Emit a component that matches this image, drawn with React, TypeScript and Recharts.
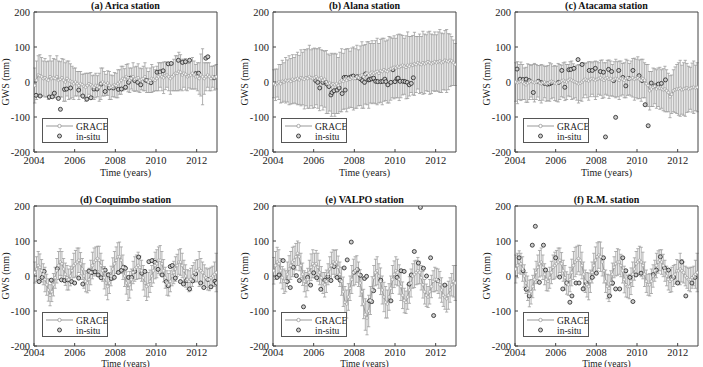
import { ComposedChart, Line, Scatter, XAxis, YAxis, ErrorBar, Legend } from 'recharts';

const FONT = '"Liberation Serif", "Times New Roman", Times, serif';
const YEAR_TICKS = [2004, 2006, 2008, 2010, 2012];
const GWS_TICKS = [-200, -100, 0, 100, 200];

// monthly GRACE epochs, 2004-2012
const months = Array.from({ length: 108 }, (_, i) => 2004.04 + i / 12);

const aricaGrace = [
  -10, 5, 20, 18, 15, 10, 12, 8, 5, 15, 10, 12,
  10, 15, 5, 8, 12, 5, 0, 10, 5, 2, 0, -5,
  0, -5, -10, -5, -8, -12, -15, -10, -5, -8, -12, -15,
  -10, -12, -15, -5, 0, -5, -8, -3, -10, -15, -12, -8,
  -10, -5, 0, 5, 10, 8, 15, 12, 5, 10, 15, 8,
  10, 12, 5, 8, 10, 15, 5, 0, 5, 10, 8, 5,
  10, 15, 20, 15, 12, 18, 20, 15, 10, 15, 20, 25,
  25, 30, 28, 20, 25, 22, 15, 18, 20, 25, 20, 15,
  15, 10, 20, 15, 10, 15, 20, 15, 10, 15, 12, 15,
];
const aricaErr = [
  50, 55, 55, 60, 55, 50, 55, 50, 55, 60, 50, 55,
  55, 60, 55, 50, 55, 60, 55, 50, 55, 50, 45, 45,
  40, 35, 40, 35, 30, 35, 40, 35, 30, 35, 30, 35,
  35, 30, 40, 45, 40, 35, 30, 35, 40, 35, 30, 35,
  35, 40, 35, 40, 35, 30, 35, 40, 35, 30, 40, 35,
  35, 40, 35, 30, 35, 40, 35, 30, 35, 40, 35, 30,
  35, 40, 35, 40, 45, 40, 35, 40, 45, 40, 45, 50,
  50, 55, 50, 45, 40, 45, 40, 35, 40, 45, 40, 35,
  40, 45, 60, 80, 45, 40, 35, 40, 35, 30, 35, 35,
];
const aricaSitu: [number, number][] = [
  [2004.1, -38], [2004.3, -40], [2004.75, -43], [2004.9, -42], [2005.0, -32], [2005.2, -47],
  [2005.3, -78], [2005.5, -21], [2005.6, -20], [2005.8, -17], [2006.2, -23], [2006.4, -40],
  [2006.6, -49], [2006.8, -45], [2006.95, -20], [2007.1, -20], [2007.3, -6], [2007.5, -27],
  [2007.7, -17], [2007.9, -17], [2008.15, -21], [2008.3, -20], [2008.5, -15], [2008.65, -1],
  [2008.75, 11], [2008.95, 4], [2009.1, -1], [2009.25, -8], [2009.5, 5], [2009.6, 3],
  [2009.75, -2], [2010.05, 28], [2010.2, 29], [2010.35, 32], [2010.6, 52], [2010.75, 53],
  [2011.1, 62], [2011.3, 56], [2011.45, 58], [2011.65, 62], [2011.95, 24], [2012.1, 25],
  [2012.45, 68], [2012.55, 72], [2012.85, 12],
];

const alanaGrace = [
  -5, -8, -3, 0, -5, 2, 0, 5, 3, 5, 2, 8,
  5, 8, 10, 6, 12, 10, 8, 12, 10, 15, 12, 10,
  12, 15, 10, 8, 12, 5, 8, 0, -5, -3, -8, -5,
  -8, -5, -10, 0, 5, 2, 8, 5, 10, 8, 12, 10,
  10, 15, 12, 18, 20, 15, 22, 25, 20, 25, 28, 25,
  28, 30, 25, 32, 30, 35, 32, 30, 35, 38, 40, 42,
  40, 45, 42, 45, 48, 45, 42, 48, 45, 50, 48, 52,
  50, 55, 52, 50, 55, 52, 55, 58, 55, 52, 55, 58,
  55, 58, 60, 55, 58, 62, 60, 58, 62, 60, 55, 50,
];
const alanaErr = [
  40, 45, 40, 50, 55, 60, 55, 65, 60, 70, 65, 70,
  65, 70, 75, 70, 80, 75, 85, 80, 85, 90, 80, 85,
  85, 80, 85, 90, 80, 85, 80, 90, 85, 80, 90, 85,
  90, 85, 80, 85, 90, 80, 85, 90, 85, 80, 85, 90,
  85, 90, 80, 85, 95, 90, 85, 90, 95, 85, 90, 85,
  90, 95, 85, 90, 95, 90, 85, 90, 95, 90, 85, 90,
  85, 90, 95, 90, 85, 80, 90, 95, 85, 80, 85, 90,
  80, 75, 85, 80, 90, 85, 80, 85, 90, 85, 80, 85,
  80, 85, 90, 85, 80, 85, 90, 80, 75, 70, 65, 60,
];
const alanaSitu: [number, number][] = [
  [2006.1, 4], [2006.2, -1], [2006.3, -17], [2006.45, -1], [2006.6, -1], [2006.65, -6],
  [2006.75, -13], [2006.85, -37], [2006.9, -30], [2007.0, -25], [2007.15, -23], [2007.25, -17],
  [2007.4, -33], [2007.5, 13], [2007.55, -23], [2007.6, 13], [2007.75, 12], [2007.85, 15],
  [2007.95, 17], [2008.1, 13], [2008.15, 15], [2008.3, 9], [2008.4, 4], [2008.5, -1],
  [2008.55, 23], [2008.7, 6], [2008.75, 7], [2008.85, 9], [2008.95, 11], [2009.05, 2],
  [2009.15, 1], [2009.3, 1], [2009.4, 2], [2009.5, 8], [2009.55, 1], [2009.65, -8],
  [2009.8, -1], [2009.9, 35], [2010.0, 1], [2010.1, 9], [2010.15, 11], [2010.25, 2],
  [2010.4, 2], [2010.5, 1], [2010.6, -1], [2010.7, -8], [2010.8, -4], [2010.9, 12],
];

const atacamaGrace = [
  0, -2, 0, 2, 0, -5, -8, -3, 0, 2, 0, -2,
  0, 2, -3, -5, -2, 0, -5, -3, 0, 2, 0, -3,
  -5, -2, 0, 3, 5, 2, 0, 5, 8, 5, 2, 0,
  -2, -5, -3, 0, 5, 8, 5, 3, 8, 10, 8, 5,
  8, 10, 12, 8, 5, 10, 12, 8, 10, 5, 8, 10,
  8, 5, 10, 8, 5, 10, 12, 8, 10, 12, 8, 10,
  12, 8, 5, 10, 5, -5, -10, -25, -20, -15, -12, -20,
  -15, -18, -20, -22, -20, -25, -30, -42, -35, -25, -22, -20,
  -20, -18, -22, -20, -18, -17, -20, -18, -16, -15, -17, -15,
];
const atacamaErr = [
  55, 60, 50, 55, 50, 45, 50, 55, 50, 45, 50, 55,
  50, 45, 50, 55, 50, 45, 50, 50, 55, 50, 45, 50,
  50, 55, 50, 45, 50, 55, 50, 45, 50, 55, 50, 45,
  50, 55, 50, 55, 50, 45, 50, 55, 50, 45, 50, 55,
  50, 45, 50, 55, 50, 45, 50, 55, 50, 45, 50, 55,
  50, 55, 50, 45, 50, 55, 50, 45, 50, 55, 60, 55,
  60, 55, 60, 55, 50, 55, 60, 55, 50, 55, 50, 55,
  55, 60, 55, 60, 65, 60, 55, 60, 55, 60, 65, 70,
  75, 80, 70, 75, 80, 70, 65, 60, 70, 75, 65, 70,
];
const atacamaSitu: [number, number][] = [
  [2004.1, 37], [2004.25, 8], [2004.4, 7], [2004.55, 8], [2004.7, 4], [2004.9, -30],
  [2005.15, 2], [2005.3, -2], [2005.45, -4], [2005.6, -6], [2005.7, -5], [2005.8, -2],
  [2006.15, -1], [2006.3, 33], [2006.45, -15], [2006.65, 35], [2006.75, 36], [2006.9, 39],
  [2007.1, 64], [2007.3, 50], [2007.65, 33], [2007.8, 33], [2007.95, 39], [2008.2, 30],
  [2008.35, 28], [2008.45, -157], [2008.6, 36], [2008.75, 30], [2008.85, 4], [2008.95, -101],
  [2009.1, 33], [2009.3, 13], [2009.45, -11], [2009.6, 10], [2009.8, 33], [2010.1, 18],
  [2010.25, 4], [2010.4, -65], [2010.55, -125], [2010.7, -3], [2010.9, -11], [2011.05, -6],
  [2011.2, -4], [2011.4, 6],
];

const coquimboGrace = [
  10, 20, 30, 25, 15, 5, -10, -25, -40, -55, -45, -25,
  -5, 15, 30, 40, 35, 20, 5, -5, -10, 0, 15, 30,
  35, 40, 45, 35, 20, 0, -15, -20, -10, 10, 30, 40,
  45, 50, 45, 30, 15, -5, -20, -30, -20, 0, 20, 35,
  45, 55, 55, 45, 25, 0, -20, -35, -25, -10, 10, 20,
  25, 30, 25, 15, -5, -20, -30, -25, -15, 0, 15, 30,
  35, 45, 45, 35, 15, -5, -20, -25, -15, 0, 10, 20,
  30, 40, 40, 30, 15, 0, -10, -15, -10, 0, 10, 15,
  15, 20, 15, 10, 0, -5, -10, -10, -5, 0, 5, 10,
];
const coquimboErr = [
  30, 35, 40, 38, 32, 30, 35, 30, 32, 30, 28, 32,
  30, 35, 40, 38, 35, 30, 32, 35, 30, 28, 32, 35,
  38, 40, 35, 32, 30, 35, 30, 28, 32, 35, 38, 40,
  38, 35, 40, 35, 30, 32, 35, 38, 30, 28, 32, 35,
  38, 40, 42, 38, 35, 30, 32, 35, 38, 30, 32, 35,
  35, 38, 32, 30, 35, 38, 40, 35, 32, 30, 35, 38,
  40, 38, 42, 35, 32, 30, 35, 32, 30, 28, 32, 35,
  32, 35, 38, 35, 30, 32, 28, 30, 32, 30, 28, 30,
  32, 50, 35, 30, 32, 28, 30, 32, 30, 28, 35, 55,
];
const coquimboSitu: [number, number][] = [
  [2004.25, -16], [2004.4, -4], [2004.5, 13], [2004.85, -12], [2005.15, 21], [2005.35, -11],
  [2005.5, -13], [2005.65, -11], [2005.85, -16], [2006.0, -20], [2006.2, -6], [2006.4, -23],
  [2006.7, 14], [2006.85, 10], [2007.0, 12], [2007.15, 3], [2007.3, -5], [2007.5, 17],
  [2007.65, 3], [2007.8, -7], [2007.95, -4], [2008.15, 10], [2008.3, 16], [2008.4, 25],
  [2008.5, 22], [2008.65, -4], [2008.8, -4], [2008.95, 13], [2009.15, 54], [2009.3, 8],
  [2009.45, 13], [2009.65, 41], [2009.8, 44], [2009.95, 39], [2010.1, 19], [2010.3, 3],
  [2010.5, -16], [2010.6, -28], [2010.7, 27], [2010.8, 30], [2010.95, -6], [2011.2, -16],
  [2011.35, -23], [2011.5, -13], [2011.65, -37], [2011.8, -14], [2011.95, 6], [2012.2, -20],
  [2012.35, -33], [2012.55, -10], [2012.7, -31], [2012.9, -15], [2012.97, -20],
];

const valpoGrace = [
  15, 30, 40, 35, 15, -5, -15, -15, 5, 20, 30, 40,
  45, 55, 65, 55, 30, 5, -15, -25, -10, 10, 25, 35,
  30, 35, 25, 10, -5, -20, -25, -15, 5, 20, 30, 40,
  35, 40, 25, 5, -15, -45, -75, -80, -60, -35, -10, 10,
  15, 20, 5, -20, -45, -80, -110, -120, -100, -70, -40, -5,
  10, 15, 0, -15, -40, -60, -75, -80, -60, -35, -10, 5,
  15, 10, -10, -30, -55, -70, -75, -60, -40, -20, 0, 5,
  10, 15, 10, -5, -25, -45, -55, -60, -45, -30, -15, -10,
  -10, -15, -25, -40, -55, -60, -65, -55, -40, -25, -15, -20,
];
const valpoErr = [
  38, 40, 42, 40, 35, 32, 35, 30, 35, 38, 40, 42,
  40, 38, 35, 40, 35, 32, 30, 35, 32, 35, 38, 40,
  35, 38, 40, 35, 32, 30, 35, 32, 30, 35, 38, 35,
  38, 35, 32, 35, 40, 42, 45, 40, 38, 35, 40, 38,
  40, 38, 35, 38, 40, 42, 45, 48, 45, 40, 38, 35,
  38, 40, 35, 38, 40, 42, 45, 40, 38, 35, 40, 38,
  40, 38, 42, 40, 38, 35, 32, 35, 38, 40, 35, 38,
  35, 38, 32, 35, 38, 35, 32, 30, 35, 32, 30, 35,
  32, 35, 38, 35, 32, 35, 38, 40, 35, 32, 45, 50,
];
const valpoSitu: [number, number][] = [
  [2004.2, -4], [2004.3, 3], [2004.5, 44], [2004.7, -16], [2004.85, -33], [2005.0, 25],
  [2005.15, 1], [2005.3, -13], [2005.5, -88], [2005.7, -4], [2005.85, -26], [2006.0, 9],
  [2006.15, -5], [2006.35, -38], [2006.55, -12], [2006.7, -1], [2006.85, -13], [2007.0, 27],
  [2007.15, -4], [2007.3, -12], [2007.5, 23], [2007.65, 46], [2007.85, 97], [2008.0, 11],
  [2008.15, 18], [2008.3, 2], [2008.5, -7], [2008.6, -1], [2008.75, -71], [2008.85, -73],
  [2008.95, -42], [2009.3, -12], [2009.8, -71], [2010.1, -4], [2010.3, 15], [2010.45, 13],
  [2010.7, -23], [2010.8, 3], [2010.95, 70], [2011.15, 37], [2011.25, 196], [2011.4, 22],
  [2011.55, 0], [2011.75, 52], [2011.9, -113], [2012.1, -13], [2012.45, -26],
];

const rmGrace = [
  20, 30, 40, 35, 20, 0, -20, -35, -50, -45, -30, -10,
  10, 25, 35, 40, 25, 5, -10, -15, -5, 10, 25, 30,
  35, 40, 45, 35, 15, -5, -20, -25, -10, 10, 30, 40,
  45, 50, 45, 30, 5, -15, -25, -30, -15, 10, 30, 45,
  55, 60, 55, 40, 15, -15, -30, -35, -20, 5, 25, 35,
  40, 40, 30, 15, -10, -25, -30, -30, -15, 5, 20, 35,
  40, 45, 40, 30, 5, -15, -25, -25, -15, 0, 15, 30,
  40, 45, 40, 30, 15, 0, -10, -15, -10, 0, 5, 15,
  15, 20, 15, 10, 0, -5, -10, -10, -5, 0, 5, 10,
];
const rmErr = [
  40, 35, 32, 30, 35, 32, 30, 35, 38, 35, 32, 30,
  32, 35, 38, 40, 35, 30, 32, 28, 30, 32, 35, 38,
  38, 40, 35, 32, 30, 35, 32, 30, 35, 38, 40, 42,
  40, 38, 42, 38, 35, 32, 35, 38, 32, 30, 35, 38,
  40, 38, 42, 40, 35, 32, 35, 38, 35, 32, 30, 35,
  38, 35, 32, 35, 38, 35, 32, 35, 38, 35, 32, 35,
  38, 40, 42, 38, 35, 32, 30, 32, 35, 32, 30, 35,
  32, 30, 35, 32, 30, 28, 30, 32, 35, 30, 28, 32,
  30, 45, 32, 30, 28, 30, 32, 35, 30, 28, 40, 55,
];
const rmSitu: [number, number][] = [
  [2004.2, 52], [2004.4, 15], [2004.55, -38], [2004.7, -57], [2004.85, 88], [2005.0, 142],
  [2005.2, -18], [2005.4, 88], [2005.5, 17], [2006.0, 52], [2006.2, -3], [2006.35, -37],
  [2006.55, -20], [2006.7, -75], [2006.8, -57], [2007.0, -20], [2007.15, -20], [2007.35, -37],
  [2007.5, -20], [2007.8, -4], [2008.0, 8], [2008.35, 52], [2008.65, -57], [2008.8, -20],
  [2008.95, -37], [2009.15, -37], [2009.3, 52], [2009.45, 15], [2009.65, -4], [2009.8, -73],
  [2009.95, 3], [2010.2, 8], [2010.8, 4], [2010.95, 17], [2011.15, 55], [2011.35, 23],
  [2011.55, 17], [2011.7, -4], [2011.8, -4], [2012.0, -20], [2012.2, 40], [2012.4, -57],
  [2012.7, -20], [2012.85, -4],
];

type Panel = {
  title: string;
  left: number;
  top: number;
  bottomRow: boolean;
  grace: number[];
  err: number[];
  situ: [number, number][];
};

const panels: Panel[] = [
  { title: '(a) Arica station', left: 34, top: 12, bottomRow: false, grace: aricaGrace, err: aricaErr, situ: aricaSitu },
  { title: '(b) Alana station', left: 273, top: 12, bottomRow: false, grace: alanaGrace, err: alanaErr, situ: alanaSitu },
  { title: '(c) Atacama station', left: 515, top: 12, bottomRow: false, grace: atacamaGrace, err: atacamaErr, situ: atacamaSitu },
  { title: '(d) Coquimbo station', left: 34, top: 206, bottomRow: true, grace: coquimboGrace, err: coquimboErr, situ: coquimboSitu },
  { title: '(e) VALPO station', left: 273, top: 206, bottomRow: true, grace: valpoGrace, err: valpoErr, situ: valpoSitu },
  { title: '(f) R.M. station', left: 515, top: 206, bottomRow: true, grace: rmGrace, err: rmErr, situ: rmSitu },
];

const AXIS = '#444';
const tickStyle = { fill: '#222', fontSize: 10.5, fontFamily: FONT };

function LegendBox() {
  return (
    <div style={{ width: 66, height: 25, boxSizing: 'border-box', border: '1px solid #555', background: '#fff' }}>
      <svg width={64} height={23} style={{ display: 'block', fontFamily: FONT, fontSize: 9.5 }}>
        <line x1={3} y1={7} x2={30} y2={7} stroke="#999" strokeWidth={1} />
        <circle cx={16.5} cy={7} r={1.7} fill="#fff" stroke="#999" strokeWidth={0.8} />
        <text x={33} y={10.5} fill="#222">GRACE</text>
        <circle cx={16.5} cy={17} r={2} fill="#ccc" stroke="#222" strokeWidth={0.8} />
        <text x={33} y={20.5} fill="#222">in-situ</text>
      </svg>
    </div>
  );
}

function SituDot(props: any) {
  const { cx, cy } = props;
  if (cx == null || cy == null) return <g />;
  return <circle cx={cx} cy={cy} r={2} fill="#ccc" stroke="#222" strokeWidth={0.8} />;
}

function StationChart({ p }: { p: Panel }) {
  const grace = months.map((t, i) => ({ t, v: p.grace[i], e: p.err[i] }));
  const situ = p.situ.map(([t, v]) => ({ t, v }));
  // bottom row: the page ends right under the axis, so squeeze the x label in
  const tickMargin = p.bottomRow ? 6 : 8;
  const labelOffset = p.bottomRow ? 5 : 2;
  const labelSize = p.bottomRow ? 9.5 : 10;
  return (
    <div style={{ position: 'absolute', left: p.left - 34, top: p.top - 12 }}>
      <div
        style={{
          position: 'absolute',
          left: 34,
          top: 0,
          width: 183,
          lineHeight: '12px',
          textAlign: 'center',
          fontFamily: FONT,
          fontWeight: 'bold',
          fontSize: 10,
          color: '#111',
          zIndex: 2,
        }}
      >
        {p.title}
      </div>
      <ComposedChart width={223} height={182} margin={{ top: 11, right: 5, bottom: 4, left: 0 }}>
        <XAxis
          dataKey="t"
          type="number"
          domain={[2004, 2013]}
          ticks={YEAR_TICKS}
          allowDataOverflow
          height={26}
          tickSize={-3}
          tickMargin={tickMargin}
          stroke={AXIS}
          tick={tickStyle}
          label={{
            value: 'Time (years)',
            position: 'insideBottom',
            offset: labelOffset,
            fill: '#222',
            fontSize: labelSize,
            fontFamily: FONT,
          }}
        />
        <XAxis
          xAxisId="top"
          orientation="top"
          dataKey="t"
          type="number"
          domain={[2004, 2013]}
          ticks={YEAR_TICKS}
          height={1}
          tickSize={-3}
          tick={false}
          stroke={AXIS}
        />
        <YAxis
          dataKey="v"
          type="number"
          domain={[-200, 200]}
          ticks={GWS_TICKS}
          allowDataOverflow
          width={34}
          tickSize={-3}
          tickMargin={7}
          stroke={AXIS}
          tick={tickStyle}
          label={{
            value: 'GWS (mm)',
            angle: -90,
            position: 'insideLeft',
            offset: 5,
            fill: '#222',
            fontSize: 10,
            fontFamily: FONT,
            style: { textAnchor: 'middle' },
          }}
        />
        <YAxis
          yAxisId="right"
          orientation="right"
          type="number"
          domain={[-200, 200]}
          ticks={GWS_TICKS}
          width={1}
          tickSize={-3}
          tick={false}
          stroke={AXIS}
        />
        <Line
          data={grace}
          dataKey="v"
          stroke="#9a9a9a"
          strokeWidth={1}
          dot={{ r: 1.4, stroke: '#929292', strokeWidth: 0.6, fill: '#f4f4f4' }}
          isAnimationActive={false}
        >
          <ErrorBar dataKey="e" width={1.6} stroke="#9e9e9e" strokeWidth={0.8} direction="y" />
        </Line>
        <Scatter data={situ} dataKey="v" shape={SituDot} isAnimationActive={false} />
        <Legend
          layout="vertical"
          align="center"
          verticalAlign="middle"
          content={() => <LegendBox />}
          wrapperStyle={{ left: 42, top: 118, width: 66, height: 25 }}
        />
      </ComposedChart>
    </div>
  );
}

export default function App() {
  return (
    <div
      style={{
        position: 'absolute',
        left: 0,
        top: 0,
        width: 703,
        height: 367,
        overflow: 'hidden',
        background: '#fff',
      }}
    >
      {panels.map((p) => (
        <StationChart key={p.title} p={p} />
      ))}
    </div>
  );
}
